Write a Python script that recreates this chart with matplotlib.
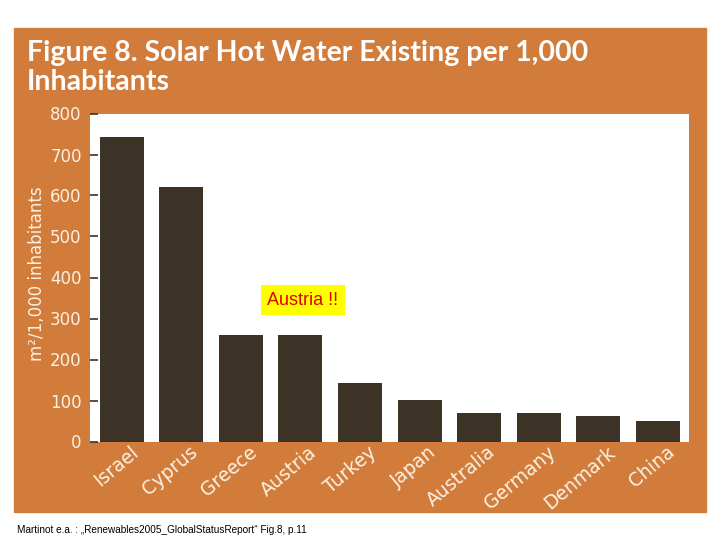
import matplotlib
matplotlib.use("Agg")
import matplotlib.pyplot as plt
from matplotlib.patches import Rectangle
import matplotlib.transforms as mtransforms

# donnees (m2 / 1000 habitants)
pays = ["Israel", "Cyprus", "Greece", "Austria", "Turkey", "Japan",
        "Australia", "Germany", "Denmark", "China"]
valeurs = [742, 620, 260, 260, 143, 101, 69, 69, 62, 50]
graduations = [0, 100, 200, 300, 400, 500, 600, 700, 800]

orange = "#d27c3b"
brun = "#3d3226"
creme = "#fbf1e2"
etroite = ["Liberation Sans Narrow", "DejaVu Sans"]

fig = plt.figure(figsize=(7.2, 5.4), dpi=100)
fig.patch.set_facecolor("white")

# cadre orange
fig.patches.append(Rectangle((14/720, 1-512/540), 692/720, 484/540,
                             transform=fig.transFigure, color=orange, zorder=-5))

fig.text(27/720, 1-40/540, "Figure 8. Solar Hot Water Existing per 1,000\nInhabitants",
         color="white", fontsize=20.5, fontweight="bold", family="Lato",
         va="top", ha="left", linespacing=1.12)

ax = fig.add_axes([90/720, 1-441.5/540, 599/720, 328/540])
ax.set_facecolor("white")
x = range(len(pays))
ax.bar(x, valeurs, width=0.74, color=brun, zorder=2)
ax.set_xlim(-0.53, 9.52)
ax.set_ylim(0, 800)
for s in ax.spines.values():
    s.set_visible(False)

ax.set_yticks(graduations)
ax.set_yticklabels([str(g) for g in graduations], family=etroite, fontsize=12, color=creme)
ax.tick_params(axis="y", direction="in", length=6, width=1.2, color=brun, pad=6)
ax.set_xticks([])

# etiquettes des pays, inclinees
decal = mtransforms.offset_copy(ax.transData, fig=fig, x=8, y=-1, units="dots")
for i, p in enumerate(pays):
    ax.text(i, 0, p, transform=decal, rotation=40, rotation_mode="anchor",
            ha="right", va="top", color=creme, fontsize=13.5, family=etroite,
            clip_on=False)

fig.text(37/720, 1-274/540, "m²/1,000 inhabitants", rotation=90, color=creme,
         fontsize=12, family=etroite, ha="center", va="center")

ax.text(3.04, 345, "Austria !!", color="#e00000", fontsize=13,
        family="Liberation Sans", ha="center", va="center", zorder=5,
        bbox=dict(boxstyle="square,pad=0.35", facecolor="#ffff00", edgecolor="none"))

fig.text(17/720, 1-530/540, "Martinot e.a. : \u201eRenewables2005_GlobalStatusReport\u201c Fig.8, p.11",
         fontsize=7.2, family="Liberation Sans", color="black", va="center", ha="left")

fig.savefig("out.png", dpi=100, facecolor="white")
